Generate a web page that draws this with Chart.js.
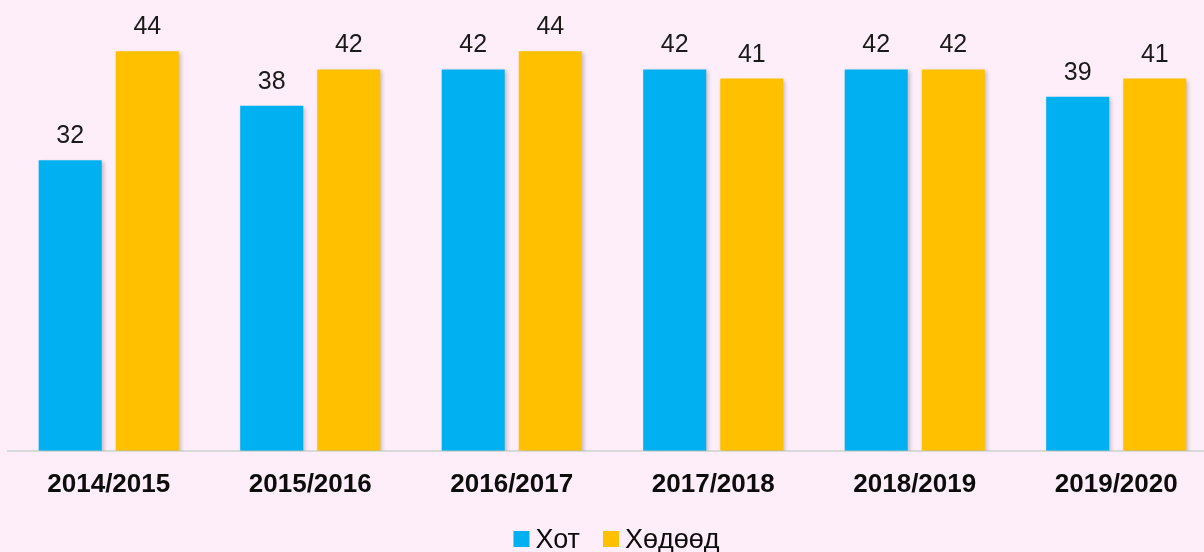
<!DOCTYPE html>
<html>
<head>
<meta charset="utf-8">
<script src="https://cdn.jsdelivr.net/npm/chart.js@4/dist/chart.umd.min.js"></script>
<style>
  html, body { margin: 0; padding: 0; background: #fdeef9; overflow: hidden; }
  #wrap { position: absolute; left: 0; top: 0; width: 1217px; height: 552px; }
</style>
</head>
<body>
<div id="wrap"><canvas id="chart"></canvas></div>
<script>
const years = ['2014/2015', '2015/2016', '2016/2017', '2017/2018', '2018/2019', '2019/2020'];
const hot = [32, 38, 42, 42, 42, 39];
const khuduu = [44, 42, 44, 41, 42, 41];

const font = "'Liberation Sans', Arial, sans-serif";

// draw values above bars + soft shadow on bars
const barLabels = {
  id: 'barLabels',
  beforeDatasetsDraw(chart) {
    const ctx = chart.ctx;
    ctx.save();
    ctx.shadowColor = 'rgba(0,0,0,0.22)';
    ctx.shadowBlur = 4;
    ctx.shadowOffsetX = 2;
    ctx.shadowOffsetY = 2;
  },
  afterDatasetsDraw(chart) {
    const ctx = chart.ctx;
    ctx.restore();
    ctx.save();
    ctx.font = '25px ' + font;
    ctx.fillStyle = '#1a1a1a';
    ctx.textAlign = 'center';
    ctx.textBaseline = 'alphabetic';
    chart.data.datasets.forEach((ds, i) => {
      chart.getDatasetMeta(i).data.forEach((bar, j) => {
        ctx.fillText(ds.data[j], bar.x, bar.y - 17);
      });
    });
    ctx.restore();
  }
};

// legend drawn by hand so the spacing follows the original
const bottomLegend = {
  id: 'bottomLegend',
  afterDraw(chart) {
    const ctx = chart.ctx;
    const box = 16, textGap = 6, itemGap = 23;
    ctx.save();
    ctx.font = '27px ' + font;
    const items = chart.data.datasets.map(ds => ({ text: ds.label, color: ds.backgroundColor, w: ctx.measureText(ds.label).width }));
    let total = 0;
    items.forEach((it, i) => { total += box + textGap + it.w + (i ? itemGap : 0); });
    let x = chart.width / 2 + 8 - total / 2;
    const base = 548;
    items.forEach(it => {
      ctx.fillStyle = it.color;
      ctx.fillRect(x, base - 17, box, box);
      x += box + textGap;
      ctx.fillStyle = '#0d0d0d';
      ctx.textBaseline = 'alphabetic';
      ctx.fillText(it.text, x, base);
      x += it.w + itemGap;
    });
    ctx.restore();
  }
};

new Chart(document.getElementById('chart'), {
  type: 'bar',
  data: {
    labels: years,
    datasets: [
      { label: 'Хот', data: hot, backgroundColor: '#00b0f0' },
      { label: 'Хөдөөд', data: khuduu, backgroundColor: '#ffc000' }
    ]
  },
  options: {
    responsive: true,
    maintainAspectRatio: false,
    animation: false,
    categoryPercentage: 0.765,
    barPercentage: 0.818,
    layout: { padding: { left: 8, right: 0, top: 15, bottom: 42 } },
    scales: {
      x: {
        grid: { display: false },
        border: { color: '#d9d9d9', width: 2 },
        ticks: { color: '#0d0d0d', font: { family: font, size: 26, weight: 'bold' }, padding: 10 }
      },
      y: { display: false, min: 0, max: 48 }
    },
    plugins: {
      legend: { display: false },
      tooltip: { enabled: false }
    }
  },
  plugins: [barLabels, bottomLegend]
});
</script>
</body>
</html>
